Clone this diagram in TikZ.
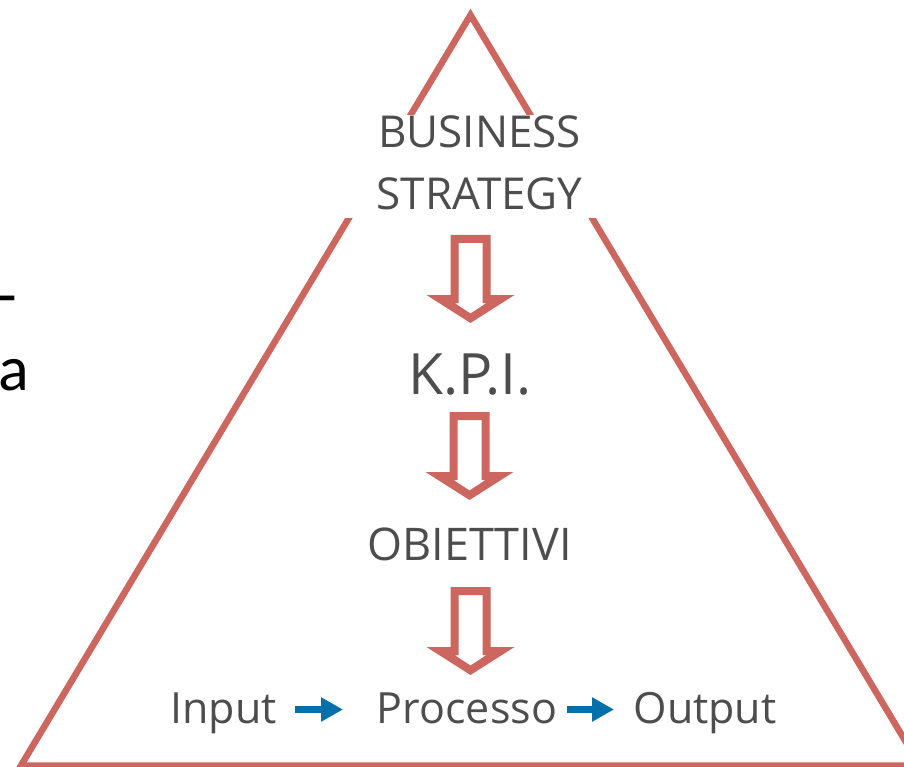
\documentclass[tikz,border=0pt]{standalone}
\usepackage{fontspec}
\setmainfont{Open Sans}
\newfontfamily\carl{Carlito}
\usetikzlibrary{arrows.meta}
\definecolor{tri}{HTML}{CD665F}
\definecolor{txt}{HTML}{4D4D4D}
\definecolor{blu}{HTML}{0070AA}
\begin{document}
\begin{tikzpicture}[x=1pt,y=-1pt,
  lbl/.style={text=txt, inner sep=0pt, anchor=base},
  hollow/.pic={\fill[tri, even odd rule]
     (-20,0)--(20,0)--(20,60)--(44,60)--(0,88)--(-44,60)--(-20,60)--cycle
     (-12,8)--(12,8)--(12,68)--(16,68)--(0,78.5)--(-16,68)--(-12,68)--cycle;},
  bluearrow/.style={draw=blu, line width=7pt, -{Triangle[length=22pt,width=23pt]}}]
\fill[white] (0,0) rectangle (904,767);
\useasboundingbox (0,0) rectangle (904,767);
\begin{scope}
  \clip (0,0) rectangle (904,767);
  \draw[tri, line width=6.5pt, line join=miter] (470.5,15) -- (920,765.5) -- (21,765.5) -- cycle;
\end{scope}
\node[fill=white, minimum width=271pt, minimum height=103pt, inner sep=0pt] (bsbox) at (470.5,166.5) {};
\node[lbl, font=\fontsize{44}{54}\selectfont] (bus) at (479.5,148) {BUSINESS};
\node[lbl, font=\fontsize{44}{54}\selectfont] (str) at (479.5,210) {STRATEGY};
\node[lbl, font=\fontsize{57}{64}\selectfont] (kpi) at (470,394) {K.P.I.};
\node[lbl, font=\fontsize{45}{54}\selectfont] (obi) at (469.5,560) {OBIETTIVI};
\node[lbl, font=\fontsize{43}{52}\selectfont] (inp) at (223.5,723) {Input};
\node[lbl, font=\fontsize{43}{52}\selectfont] (proc) at (467,723) {Processo};
\node[lbl, font=\fontsize{43}{52}\selectfont] (outp) at (705,723) {Output};
\pic at (470.5,235) {hollow};
\pic at (469.5,412) {hollow};
\pic at (470.5,587) {hollow};
\coordinate (a1s) at (295,709.5);
\coordinate (a1e) at (343,709.5);
\coordinate (a2s) at (567,709.5);
\coordinate (a2e) at (614,709.5);
\draw[bluearrow] (a1s) -- (a1e);
\draw[bluearrow] (a2s) -- (a2e);
\node[anchor=base east, inner sep=0pt, font=\carl\fontsize{64}{70}\selectfont] (dash) at (17,316) {-};
\node[anchor=base west, inner sep=0pt, font=\carl\fontsize{64}{70}\selectfont] (achar) at (-2,390) {a};
\end{tikzpicture}
\end{document}
